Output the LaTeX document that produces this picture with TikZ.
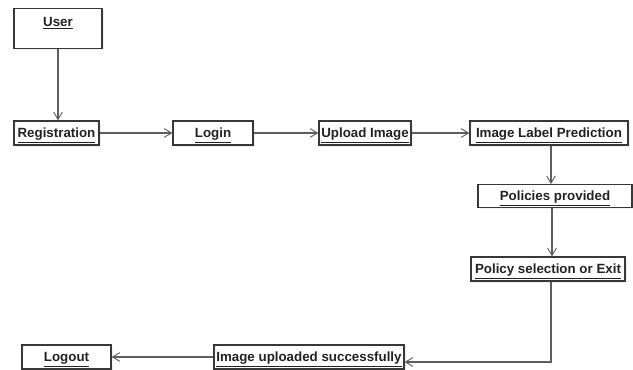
\documentclass[tikz,border=0pt]{standalone}
\usepackage{fontspec}
\setmainfont{Liberation Sans}
\usetikzlibrary{arrows.meta,shadows}
\definecolor{boxline}{HTML}{383838}
\definecolor{arrline}{HTML}{5E5E5E}
\definecolor{txt}{HTML}{222222}
\tikzset{
  objtext/.style={text=txt, font=\fontsize{10pt}{11pt}\selectfont\bfseries,
    text height=7.2pt, text depth=0pt},
  objbox/.style={objtext, draw=boxline, line width=0.9pt, fill=white, inner sep=0pt,
    minimum height=18pt,
    drop shadow={opacity=0.12, shadow xshift=1.5pt, shadow yshift=-1.5pt}},
  flow/.style={draw=arrline, line width=0.8pt,
    -{Straight Barb[length=5.5pt,width=6.5pt,line width=0.7pt]}}
}
\begin{document}
\begin{tikzpicture}[x=0.75pt,y=-0.75pt]
\useasboundingbox (0,0) rectangle (633,370);
\fill[white] (0,0) rectangle (633,370);
% nodes
\node[objbox, minimum width=66pt, minimum height=29.5pt,
  label={[objtext, anchor=north, inner sep=0pt, yshift=-6pt]north:\underline{User}}] (user) at (58,28.5) {};
\node[objbox, minimum width=63.75pt] (reg) at (56.5,133) {\underline{Registration}};
\node[objbox, minimum width=60pt] (login) at (213,133) {\underline{Login}};
\node[objbox, minimum width=69pt] (upload) at (365,133) {\underline{Upload Image}};
\node[objbox, minimum width=118.5pt] (pred) at (549,133) {\underline{Image Label Prediction}};
\node[objbox, minimum width=115.5pt, minimum height=17pt] (pol) at (555,196) {\underline{Policies provided}};
\node[objbox, minimum width=115.5pt] (psel) at (548,269) {\underline{Policy selection or Exit}};
\node[objbox, minimum width=142.5pt] (done) at (309,357) {\underline{Image uploaded successfully}};
\node[objbox, minimum width=66.75pt] (logout) at (66.5,357) {\underline{Logout}};
\coordinate (c1) at (551,0);
\coordinate (c2) at (552,0);
\coordinate (corner) at (551,362);
% connectors
\draw[flow] (user.south) -- (user.south |- reg.north);
\draw[flow] (reg.east) -- (login.west);
\draw[flow] (login.east) -- (upload.west);
\draw[flow] (upload.east) -- (pred.west);
\draw[flow] (pred.south -| c1) -- (pol.north -| c1);
\draw[flow] (pol.south -| c2) -- (psel.north -| c2);
\draw[flow] (psel.south -| corner) -- (corner) -- (done.east |- corner);
\draw[flow] (done.west) -- (logout.east);
\end{tikzpicture}
\end{document}
